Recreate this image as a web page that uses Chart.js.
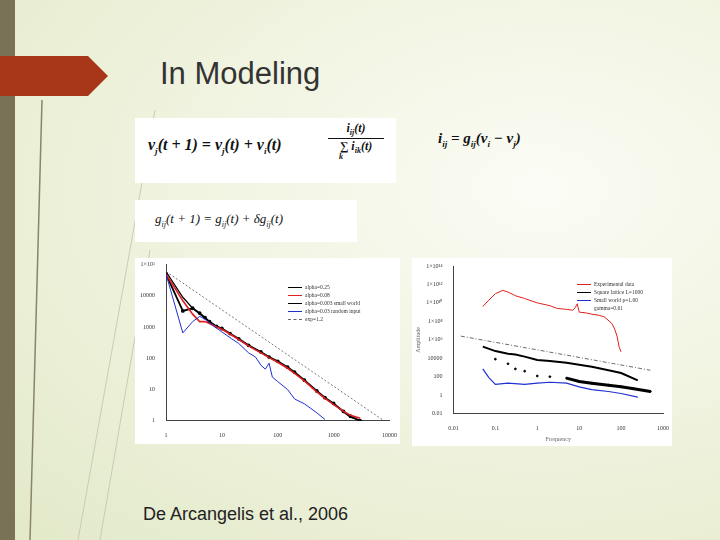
<!DOCTYPE html>
<html><head><meta charset="utf-8">
<script src="https://cdn.jsdelivr.net/npm/chart.js@4"></script>
<style>
body{margin:0;width:720px;height:540px;overflow:hidden;position:relative;font-family:"Liberation Sans",Arial,sans-serif;
 background:radial-gradient(ellipse at 75% 35%,#fbfcf5 0%,#eef2dc 55%,#e2e9c8 100%);}
.abs{position:absolute}
.box{position:absolute;background:#fff}
.eq{font-family:"Liberation Serif",serif;font-style:italic;font-weight:bold;color:#111}
.leg{position:absolute;font-family:"Liberation Serif",serif;font-size:5.5px;color:#333;line-height:8px}
.leg span{display:inline-block;width:14px;height:0;border-top:1.5px solid;vertical-align:middle;margin-right:3px}
</style></head><body>
<div class="abs" style="left:0;top:0;width:15px;height:540px;background:#7a7256"></div>
<svg class="abs" style="left:0;top:0" width="720" height="540">
 <polygon points="0,56 88,56 108,76 88,96 0,96" fill="#a8371a"/>
 <line x1="42" y1="100" x2="30" y2="540" stroke="#8a8468" stroke-width="1.5"/>
 <line x1="155" y1="110" x2="78" y2="540" stroke="#c9ccb4" stroke-width="1"/>
 <line x1="150" y1="250" x2="100" y2="540" stroke="#c9ccb4" stroke-width="1"/>
</svg>
<div class="abs" style="left:160px;top:56px;font-size:31px;color:#333">In Modeling</div>

<div class="box" style="left:135px;top:118px;width:261px;height:65px"></div>
<div class="abs eq" style="left:148px;top:136px;font-size:16px">v<sub style="font-size:9px">j</sub>(t + 1) = v<sub style="font-size:9px">j</sub>(t) + v<sub style="font-size:9px">i</sub>(t)</div>
<div class="abs eq" style="left:328px;top:121px;font-size:12px;text-align:center;width:56px">
 <div style="border-bottom:1px solid #111;padding-bottom:1px">i<sub style="font-size:8px">ij</sub>(t)</div>
 <div>∑ i<sub style="font-size:8px">ik</sub>(t)</div><div style="font-size:8px;margin-top:-4px;margin-right:30px">k</div></div>
<div class="box" style="left:135px;top:200px;width:222px;height:42px"></div>
<div class="abs eq" style="left:155px;top:211px;font-size:13px;font-weight:normal">g<sub style="font-size:8px">ij</sub>(t + 1) = g<sub style="font-size:8px">ij</sub>(t) + δg<sub style="font-size:8px">ij</sub>(t)</div>
<div class="abs eq" style="left:438px;top:130px;font-size:15px">i<sub style="font-size:9px">ij</sub> = g<sub style="font-size:9px">ij</sub>(v<sub style="font-size:9px">i</sub> − v<sub style="font-size:9px">j</sub>)</div>

<div class="box" style="left:135px;top:258px;width:265px;height:186px"><canvas id="c1"></canvas></div>
<div class="leg" style="left:288px;top:283px">
 <div><span style="border-color:#000"></span>alpha=0.25</div>
 <div><span style="border-color:#e02020"></span>alpha=0.08</div>
 <div><span style="border-color:#000"></span>alpha=0.003 small world</div>
 <div><span style="border-color:#2030d0"></span>alpha=0.03 random input</div>
 <div><span style="border-color:#666;border-top-style:dashed"></span>exp=1.2</div>
</div>
<div class="box" style="left:412px;top:258px;width:260px;height:188px"><canvas id="c2"></canvas></div>
<div class="leg" style="left:577px;top:280px">
 <div><span style="border-color:#e02020"></span>Experimental data</div>
 <div><span style="border-color:#000"></span>Square lattice L=1000</div>
 <div><span style="border-color:#2030d0"></span>Small world p=1.00</div>
 <div><span style="border:none;text-align:center">·</span>gamma=0.61</div>
</div>
<div class="abs" style="left:143px;top:504px;font-size:18px;color:#222">De Arcangelis et al., 2006</div>
<script>
// left plot: avalanche size distribution
const sizeX  = [1, 2, 3, 4, 5, 6, 8, 10, 14, 20, 30, 50, 70, 100, 150, 200, 300, 500, 700, 1000, 1500, 2000, 3000];
const a025   = [50000, 3300, 4000, 2800, 2000, 1500, 1050, 900, 620, 420, 260, 160, 110, 80, 52, 36, 20, 9, 5.5, 3.6, 2.0, 1.4, 1.0];
const a008   = [50000, 7000, 2600, 1500, 1500, 1300, 1000, 850, 600, 400, 250, 150, 105, 75, 48, 33, 19, 8.5, 5.2, 3.3, 2.0, 1.5, 1.2];
const a003sw = [60000, 9000, 4000, 2600, 1900, 1450, 1050, 880, 610, 410, 255, 155, 108, 78, 50, 35, 19.5, 8.8, 5.3, 3.5, 1.9, 1.3, 1.0];
const blueX  = [1, 2, 3, 4, 5, 7, 10, 15, 20, 30, 40, 50, 60, 70, 80, 100, 150, 200, 300, 500, 700];
const a003ri = [50000, 650, 1500, 2200, 1800, 1100, 700, 420, 300, 150, 110, 60, 45, 70, 25, 18, 10, 5, 3.5, 1.8, 1.1];
const fitX   = [1, 8000];
const fitY   = [60000, 1];
// right plot: power spectra
const expX   = [0.05, 0.07, 0.1, 0.15, 0.2, 0.3, 0.5, 1, 2, 3, 5, 7, 8, 9, 10, 15, 20, 30, 40, 60, 70, 80, 90, 100];
const expY   = [4e9, 2e10, 1e11, 2.3e11, 1.5e11, 6e10, 3e10, 1e10, 5e9, 2.5e9, 2e9, 1.6e9, 3e9, 8e9, 1e9, 8e8, 6e8, 4.5e8, 3e8, 6e7, 1.5e7, 2.5e6, 1.6e5, 5e4];
const sqX    = [0.05, 0.1, 0.2, 0.3, 0.5, 1, 2, 5, 10, 20, 50, 100, 250];
const sqY    = [1.8e5, 6e4, 3e4, 2.5e4, 1.5e4, 6500, 5000, 3200, 2000, 1200, 500, 250, 40];
const swX    = [0.05, 0.07, 0.1, 0.2, 0.5, 1, 2, 5, 10, 20, 50, 100, 250];
const swY    = [700, 80, 15, 20, 15, 20, 25, 20, 8, 4, 2.5, 1.5, 0.6];
const dotX   = [0.1, 0.2, 0.3, 0.5, 1, 2, 5, 10, 20, 50, 100, 200, 500];
const dotY   = [8000, 2500, 700, 400, 120, 100, 70, 30, 20, 12, 8, 5, 2.5];
const gamX   = [0.015, 500];
const gamY   = [2.5e6, 500];

const pts = (xs, ys) => xs.map((x, i) => ({x, y: ys[i]}));
const tickFont = {size: 6, family: 'Liberation Serif'};
function logAxis(min, max, labels) {
  return {type: 'logarithmic', min, max, grid: {display: false}, border: {color: '#444'},
    afterBuildTicks: ax => { ax.ticks = labels.map(v => ({value: v})); },
    ticks: {font: tickFont, color: '#333', autoSkip: false, callback: v => (labels.includes(v) ? fmt(v) : '')}};
}
function fmt(v) {
  if (v >= 1e5) return '1×10' + String(Math.round(Math.log10(v))).replace(/\d/g, d => '⁰¹²³⁴⁵⁶⁷⁸⁹'[d]);
  return String(v);
}
const line = (label, data, color, extra) => Object.assign({label, data, borderColor: color, backgroundColor: color,
  borderWidth: 1, pointRadius: 0, showLine: true, tension: 0}, extra || {});

new Chart(document.getElementById('c1'), {
  type: 'scatter',
  data: {datasets: [
    line('exp=1.2', pts(fitX, fitY), '#555', {borderDash: [2, 2], borderWidth: 0.8}),
    line('alpha=0.03 random input', pts(blueX, a003ri), '#2030d0'),
    line('alpha=0.08', pts(sizeX, a008), '#e02020', {borderWidth: 1.6}),
    line('alpha=0.25', pts(sizeX, a025), '#000', {borderWidth: 1.8, pointRadius: 1}),
    line('alpha=0.003 small world', pts(sizeX, a003sw), '#000', {borderWidth: 1.2}),
  ]},
  options: {animation: false, responsive: true, maintainAspectRatio: false,
    layout: {padding: {left: 2, right: 8, top: 6, bottom: 2}},
    plugins: {legend: {display: false}, tooltip: {enabled: false}},
    scales: {x: logAxis(1, 10000, [1, 10, 100, 1000, 10000]),
             y: logAxis(1, 100000, [1, 10, 100, 1000, 10000, 100000])}}
});

new Chart(document.getElementById('c2'), {
  type: 'scatter',
  data: {datasets: [
    line('gamma fit', pts(gamX, gamY), '#444', {borderDash: [4, 2, 1, 2], borderWidth: 0.8}),
    line('Experimental data', pts(expX, expY), '#e02020'),
    line('Square lattice L=1000', pts(sqX, sqY), '#000', {borderWidth: 2}),
    line('Small world p=1.00', pts(swX, swY), '#2030d0', {borderWidth: 1.2}),
    line('gamma=0.61', pts(dotX, dotY), '#000', {showLine: false, pointRadius: 0.9}),
    line('gamma=0.61 band', pts([5, 10, 20, 50, 100, 200, 500], [70, 30, 20, 12, 8, 5, 2.5]), '#000', {borderWidth: 3}),
  ]},
  options: {animation: false, responsive: true, maintainAspectRatio: false,
    layout: {padding: {left: 2, right: 8, top: 8, bottom: 2}},
    plugins: {legend: {display: false}, tooltip: {enabled: false}},
    scales: {x: Object.assign(logAxis(0.01, 1000, [0.01, 0.1, 1, 10, 100, 1000]),
               {title: {display: true, text: 'Frequency', font: tickFont, padding: 1}}),
             y: Object.assign(logAxis(0.01, 1e14, [0.01, 1, 100, 10000, 1e6, 1e8, 1e10, 1e12, 1e14]),
               {title: {display: true, text: 'Amplitude', font: tickFont, padding: 1}})}}
});
</script>
</body></html>
